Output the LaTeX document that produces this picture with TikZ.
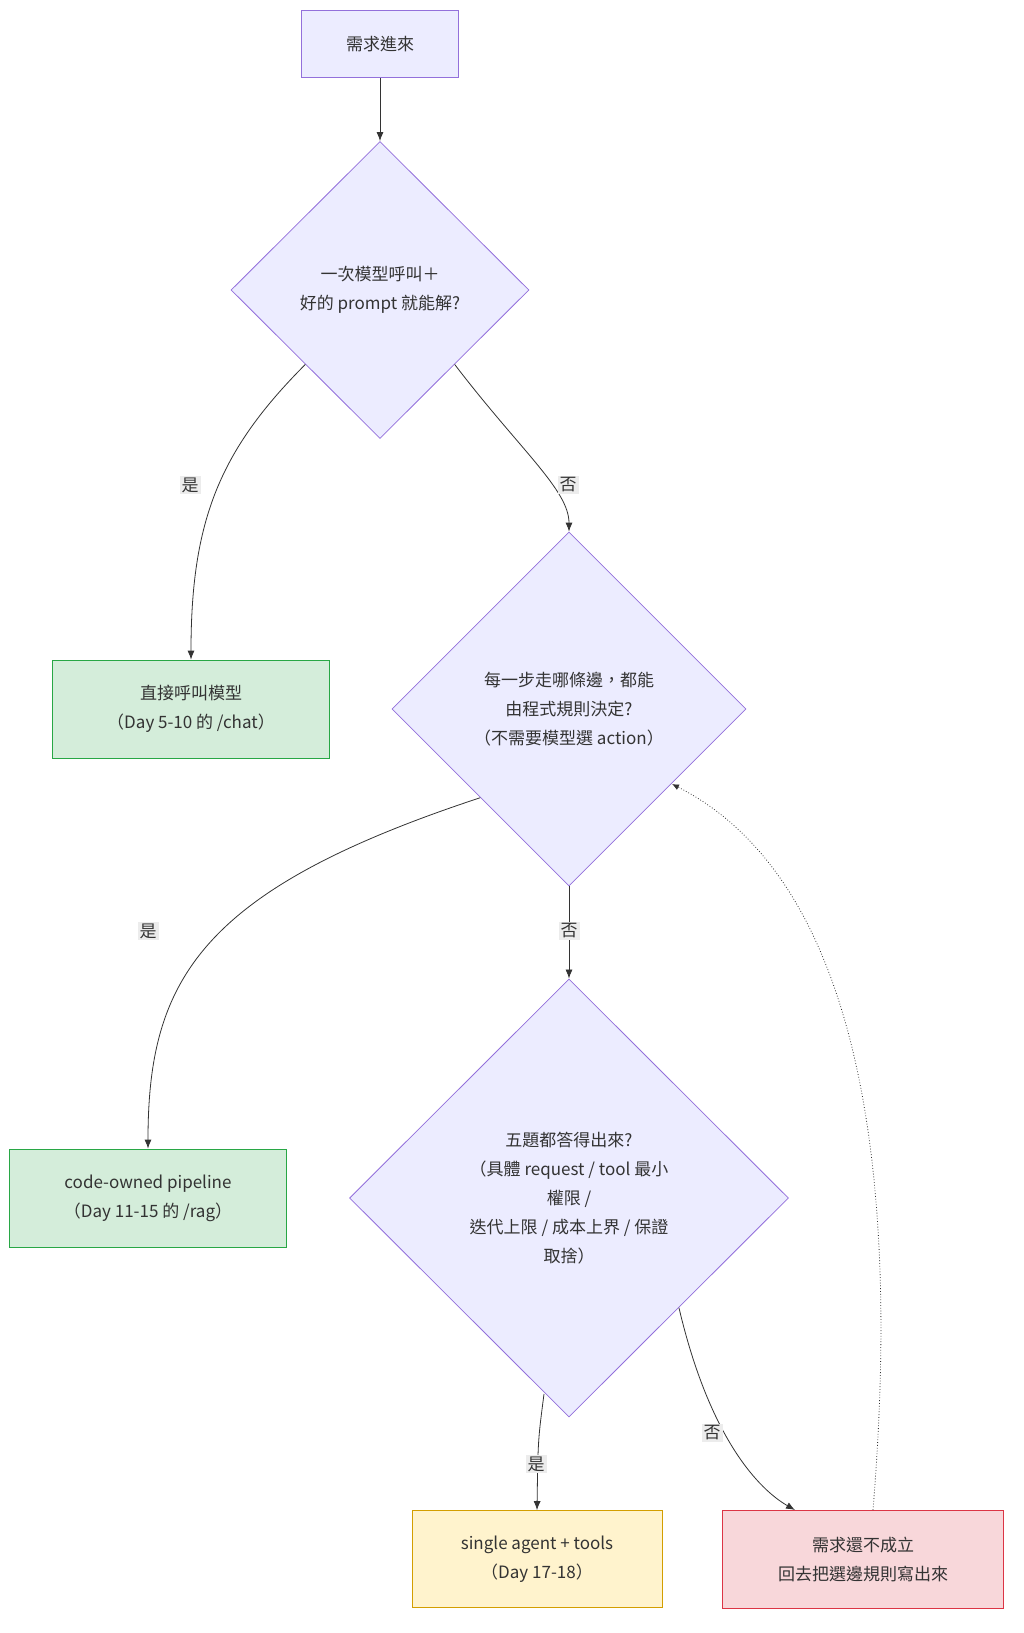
\documentclass[tikz,border=0pt]{standalone}
\usepackage{fontspec}
\setmainfont{Noto Sans CJK TC}
\usetikzlibrary{shapes.geometric,arrows.meta}
\definecolor{qfill}{HTML}{ECECFF}
\definecolor{qline}{HTML}{9370DB}
\definecolor{okfill}{HTML}{D4EDDA}
\definecolor{okline}{HTML}{28A745}
\definecolor{agfill}{HTML}{FFF3CD}
\definecolor{agline}{HTML}{D39E00}
\definecolor{nofill}{HTML}{F8D7DA}
\definecolor{noline}{HTML}{DC3545}
\tikzset{
  box/.style={draw, thick, rectangle, align=center, inner sep=0pt},
  ask/.style={draw=qline, fill=qfill, thick, shape=diamond, align=center, inner sep=0pt},
  lbl/.style={fill=gray!15, inner sep=2pt, text=black!80},
  edge/.style={draw=black!80, thick, -{Latex[length=9pt,width=7pt]}}
}
\begin{document}
\begin{tikzpicture}[x=1pt,y=-1pt,font=\fontsize{17}{29}\selectfont,text=black!80]
\useasboundingbox (0,0) rectangle (1024,1633);
\node (start) at (380,44) [box, draw=qline, fill=qfill, minimum width=157, minimum height=67] {需求進來};
\node (one) at (380,290) [ask, minimum width=298, minimum height=297] {一次模型呼叫＋\\好的 prompt 就能解?};
\node (chat) at (191,709) [box, draw=okline, fill=okfill, minimum width=277, minimum height=98] {直接呼叫模型\\（Day 5-10 的 /chat）};
\node (rule) at (569,709) [ask, minimum width=354, minimum height=354] {每一步走哪條邊，都能\\由程式規則決定?\\（不需要模型選 action）};
\node (rag) at (148,1198) [box, draw=okline, fill=okfill, minimum width=277, minimum height=98] {code-owned pipeline\\（Day 11-15 的 /rag）};
\node (five) at (569,1198) [ask, minimum width=439, minimum height=438] {五題都答得出來?\\（具體 request / tool 最小\\權限 /\\迭代上限 / 成本上界 / 保證\\取捨）};
\node (agent) at (537,1559) [box, draw=agline, fill=agfill, minimum width=250, minimum height=97] {single agent + tools\\（Day 17-18）};
\node (back) at (863,1559) [box, draw=noline, fill=nofill, minimum width=281, minimum height=98] {需求還不成立\\回去把選邊規則寫出來};
\coordinate (fiveL) at (544,1394);
\coordinate (backIn) at (795,1510);
\coordinate (backOut) at (873,1510);
\coordinate (ruleIn) at (672,784);
\draw [edge] (start) -- (one);
\draw [edge] (one.south west) .. controls (220,450) and (191,520) .. (chat.north);
\draw [edge] (one.south east) .. controls (520,450) and (569,490) .. (rule.north);
\draw [edge] (rule.south west) .. controls (200,890) and (148,980) .. (rag.north);
\draw [edge] (rule) -- (five);
\draw [edge] (fiveL) .. controls (538,1440) .. (agent.north);
\draw [edge] (five.south east) .. controls (710,1440) and (760,1490) .. (backIn);
\draw [black!80, thick, dotted, -{Latex[length=7pt,width=6pt]}] (backOut) .. controls (890,1300) and (900,900) .. (ruleIn);
\node [lbl] at (190,485) {是};
\node [lbl] at (568,485) {否};
\node [lbl] at (148,931) {是};
\node [lbl] at (569,931) {否};
\node [lbl] at (536,1464) {是};
\node [lbl] at (712,1433) {否};
\end{tikzpicture}
\end{document}
